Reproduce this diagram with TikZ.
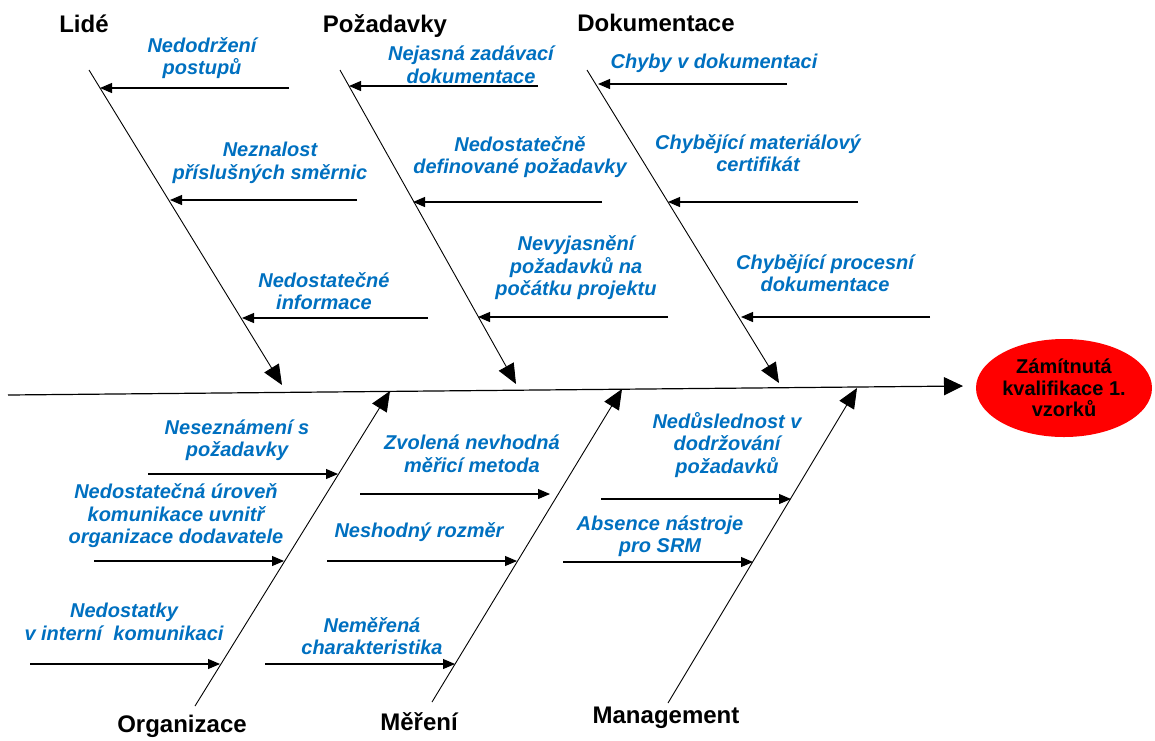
\documentclass[tikz,border=0pt]{standalone}
\usepackage{fontspec}
\setmainfont{Liberation Sans}
\usetikzlibrary{arrows.meta,shapes.geometric}
\definecolor{causeblue}{RGB}{0,112,192}
\definecolor{goalred}{RGB}{255,0,0}
\begin{document}
\begin{tikzpicture}[x=1pt,y=-1pt,
  bone/.style={line width=0.9pt,-{Triangle[length=20pt,width=17pt]}},
  spine/.style={line width=1.2pt,-{Triangle[length=19pt,width=18pt]}},
  cause/.style={line width=1.1pt,-{Triangle[length=12pt,width=10pt]}},
  catlabel/.style={font=\bfseries\fontsize{24}{27}\selectfont,anchor=base,inner sep=0pt},
  causelabel/.style={font=\bfseries\itshape\fontsize{20}{22.5}\selectfont,text=causeblue,align=center,inner sep=0pt},
  goal/.style={ellipse,fill=goalred,minimum width=176pt,minimum height=98pt,inner sep=0pt,align=center,
    font=\bfseries\fontsize{20}{21.5}\selectfont}]
\useasboundingbox (0,0) rectangle (1155,740);

% effect
\node[goal] (goal) at (1064,388) {Zámítnutá\\kvalifikace 1.\\vzorků};

% main spine
\coordinate (spineStart) at (8,395);
\coordinate (spineEnd) at (963,386);
\draw[spine] (spineStart) -- (spineEnd);

% upper bones
\coordinate (lideA) at (89,70);   \coordinate (lideB) at (282,385);
\coordinate (pozA) at (340,70);   \coordinate (pozB) at (516,384);
\coordinate (dokA) at (587,70);   \coordinate (dokB) at (779,383);
\draw[bone] (lideA) -- (lideB);
\draw[bone] (pozA) -- (pozB);
\draw[bone] (dokA) -- (dokB);

% lower bones
\coordinate (orgA) at (195,706);  \coordinate (orgB) at (390,391);
\coordinate (merA) at (432,702);  \coordinate (merB) at (622,389);
\coordinate (manA) at (668,703);  \coordinate (manB) at (857,388);
\draw[bone] (orgA) -- (orgB);
\draw[bone] (merA) -- (merB);
\draw[bone] (manA) -- (manB);

% category labels
\node[catlabel] (lide) at (84,32) {Lidé};
\node[catlabel] (poz) at (385,32) {Požadavky};
\node[catlabel] (dok) at (656,31) {Dokumentace};
\node[catlabel] (org) at (182,732) {Organizace};
\node[catlabel] (mer) at (419,730) {Měření};
\node[catlabel] (man) at (666,723) {Management};

% causes: Lidé
\coordinate (l1a) at (289,88);  \coordinate (l1b) at (100,88);
\coordinate (l2a) at (357,200); \coordinate (l2b) at (170,200);
\coordinate (l3a) at (428,318); \coordinate (l3b) at (242,318);
\draw[cause] (l1a) -- (l1b);
\draw[cause] (l2a) -- (l2b);
\draw[cause] (l3a) -- (l3b);
\node[causelabel] (l1) at (202,58) {Nedodržení\\postupů};
\node[causelabel] (l2) at (270,163) {Neznalost\\příslušných směrnic};
\node[causelabel] (l3) at (324,291) {Nedostatečné\\informace};

% causes: Požadavky
\coordinate (p1a) at (538,86);  \coordinate (p1b) at (349,86);
\coordinate (p2a) at (602,202); \coordinate (p2b) at (413,202);
\coordinate (p3a) at (668,317); \coordinate (p3b) at (478,317);
\draw[cause] (p1a) -- (p1b);
\draw[cause] (p2a) -- (p2b);
\draw[cause] (p3a) -- (p3b);
\node[causelabel] (p1) at (471,65) {Nejasná zadávací\\dokumentace};
\node[causelabel] (p2) at (520,157) {Nedostatečně\\definované požadavky};
\node[causelabel] (p3) at (576,268) {Nevyjasnění\\požadavků na\\počátku projektu};

% causes: Dokumentace
\coordinate (d1a) at (787,84);  \coordinate (d1b) at (598,84);
\coordinate (d2a) at (858,202); \coordinate (d2b) at (668,202);
\coordinate (d3a) at (930,317); \coordinate (d3b) at (741,317);
\draw[cause] (d1a) -- (d1b);
\draw[cause] (d2a) -- (d2b);
\draw[cause] (d3a) -- (d3b);
\node[causelabel] (d1) at (714,63) {Chyby v dokumentaci};
\node[causelabel] (d2) at (758,153) {Chybějící materiálový\\certifikát};
\node[causelabel] (d3) at (825,273) {Chybějící procesní\\dokumentace};

% causes: Organizace
\coordinate (o1a) at (148,474); \coordinate (o1b) at (338,474);
\coordinate (o2a) at (94,561);  \coordinate (o2b) at (284,561);
\coordinate (o3a) at (30,664);  \coordinate (o3b) at (220,664);
\draw[cause] (o1a) -- (o1b);
\draw[cause] (o2a) -- (o2b);
\draw[cause] (o3a) -- (o3b);
\node[causelabel] (o1) at (237,440) {Neseznámení s\\požadavky};
\node[causelabel] (o2) at (176,516) {Nedostatečná úroveň\\komunikace uvnitř\\organizace dodavatele};
\node[causelabel] (o3) at (124,622) {Nedostatky\\v interní~\ komunikaci};

% causes: Měření
\coordinate (m1a) at (360,494); \coordinate (m1b) at (550,494);
\coordinate (m2a) at (327,561); \coordinate (m2b) at (517,561);
\coordinate (m3a) at (265,664); \coordinate (m3b) at (455,664);
\draw[cause] (m1a) -- (m1b);
\draw[cause] (m2a) -- (m2b);
\draw[cause] (m3a) -- (m3b);
\node[causelabel] (m1) at (472,454) {Zvolená nevhodná\\měřicí metoda};
\node[causelabel] (m2) at (419,532) {Neshodný rozměr};
\node[causelabel] (m3) at (372,636) {Neměřená\\charakteristika};

% causes: Management
\coordinate (g1a) at (601,499); \coordinate (g1b) at (791,499);
\coordinate (g2a) at (563,562); \coordinate (g2b) at (753,562);
\draw[cause] (g1a) -- (g1b);
\draw[cause] (g2a) -- (g2b);
\node[causelabel] (g1) at (727,445) {Nedůslednost v\\dodržování\\požadavků};
\node[causelabel] (g2) at (660,536) {Absence nástroje\\pro SRM};
\end{tikzpicture}
\end{document}
